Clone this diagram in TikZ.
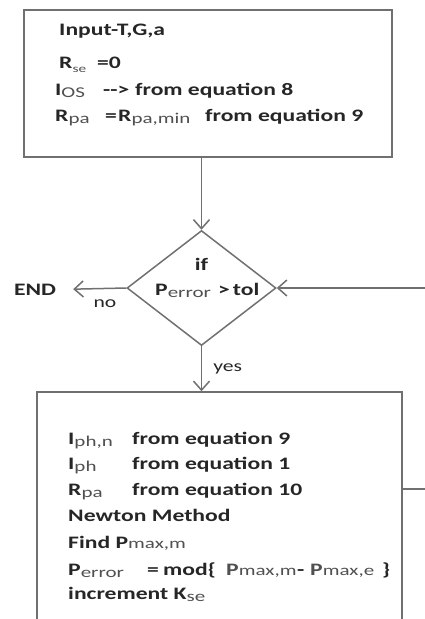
\documentclass[tikz,border=0pt]{standalone}
\usepackage{fontspec}
\setmainfont{Carlito}[FakeStretch=1.35]
\newfontfamily\subfont{Carlito}[FakeStretch=1.4]
\usetikzlibrary{shapes.geometric,arrows.meta}
\definecolor{linec}{HTML}{707070}
\definecolor{txtc}{HTML}{262626}
\definecolor{subc}{HTML}{505050}
\newcommand{\lowsub}[2][-2pt]{\raisebox{#1}{\subfont\mdseries\fontsize{15}{15}\selectfont\color{subc}#2}}
\newcommand{\tinysub}[2][-4pt]{\raisebox{#1}{\subfont\mdseries\fontsize{11}{11}\selectfont\color{subc}#2}}
\tikzset{
  boxst/.style={draw=linec, line width=1.5pt, rectangle, inner sep=0pt},
  diast/.style={draw=linec, line width=1.5pt, diamond, inner sep=0pt, minimum width=149pt, minimum height=115pt},
  ln/.style={anchor=base west, inner sep=0pt, text=txtc, font=\bfseries\fontsize{17.5}{20}\selectfont},
  ctr/.style={anchor=base, inner sep=0pt, text=txtc, font=\bfseries\fontsize{17.5}{20}\selectfont},
  lbl/.style={inner sep=0pt, text=txtc, font=\fontsize{16}{18}\selectfont},
  arr/.style={draw=linec, line width=1.5pt, -{Straight Barb[length=9pt,width=16pt]}},
}
\begin{document}
\begin{tikzpicture}[x=1pt,y=-1pt]
\useasboundingbox (0,0) rectangle (425,619);
\clip (0,0) rectangle (425,619);
% top box
\node[boxst, minimum width=368pt, minimum height=147pt] (top) at (208,83.5) {};
\node[ln] (t1) at (59,35.7) {Input-T,G,a};
\node[ln] (t2) at (59,68) {\makebox[38pt][l]{R\tinysub{se}}=0};
\node[ln] (t3) at (55,95) {\makebox[48pt][l]{I\lowsub{OS}}\makebox[32pt][l]{-{}-{}>}from equation 8};
\node[ln] (t4) at (55,121) {\makebox[50pt][l]{R\lowsub{pa}}\makebox[13pt][l]{=}\makebox[87pt][l]{R\lowsub{pa,min}}from equation 9};
% decision
\node[diast] (d) at (201.5,288) {};
\node[ctr] (d1) at (201.5,270) {if};
\node[ln] (d2) at (155,295) {\makebox[63pt][l]{P\lowsub{error}}>\,tol};
\node[ctr, anchor=center] (endn) at (35,290) {END};
% bottom box
\node[boxst, minimum width=365pt, minimum height=248pt] (bot) at (219.5,516) {};
\node[ln] (b1) at (68,444) {\makebox[64pt][l]{I\lowsub{ph,n}}from equation 9};
\node[ln] (b2) at (68,469) {\makebox[64pt][l]{I\lowsub{ph}}from equation 1};
\node[ln] (b3) at (68,495) {\makebox[64pt][l]{R\lowsub{pa}}from equation 10};
\node[ln] (b4) at (68,521) {Newton Method};
\node[ln] (b5) at (68,548) {Find P\lowsub[0pt]{max,m}};
\node[ln] (b6) at (68,575) {\makebox[79pt][l]{P\lowsub{error}}\makebox[16pt][l]{=}\makebox[63pt][l]{mod\{}\makebox[71pt][l]{{\color{subc}P}\lowsub[0pt]{max,m}}\makebox[13pt][l]{-}\makebox[72pt][l]{{\color{subc}P}\lowsub[0pt]{max,e}}\}};
\node[ln] (b7) at (68,599) {increment K\lowsub{se}};
% connectors
\draw[arr] (top.south -| d.north) -- (d.north);
\draw[arr] (d.south) -- (bot.north -| d.south) node[midway, right, xshift=11pt, lbl] (yes) {yes};
\draw[arr, shorten >=17pt] (d.west) -- (endn);
\node[lbl] (no) at (105,304) {no};
\coordinate (loop) at (440,489);
\draw[arr] (loop -| bot.east) -- (loop) |- (d.east);
\end{tikzpicture}
\end{document}
